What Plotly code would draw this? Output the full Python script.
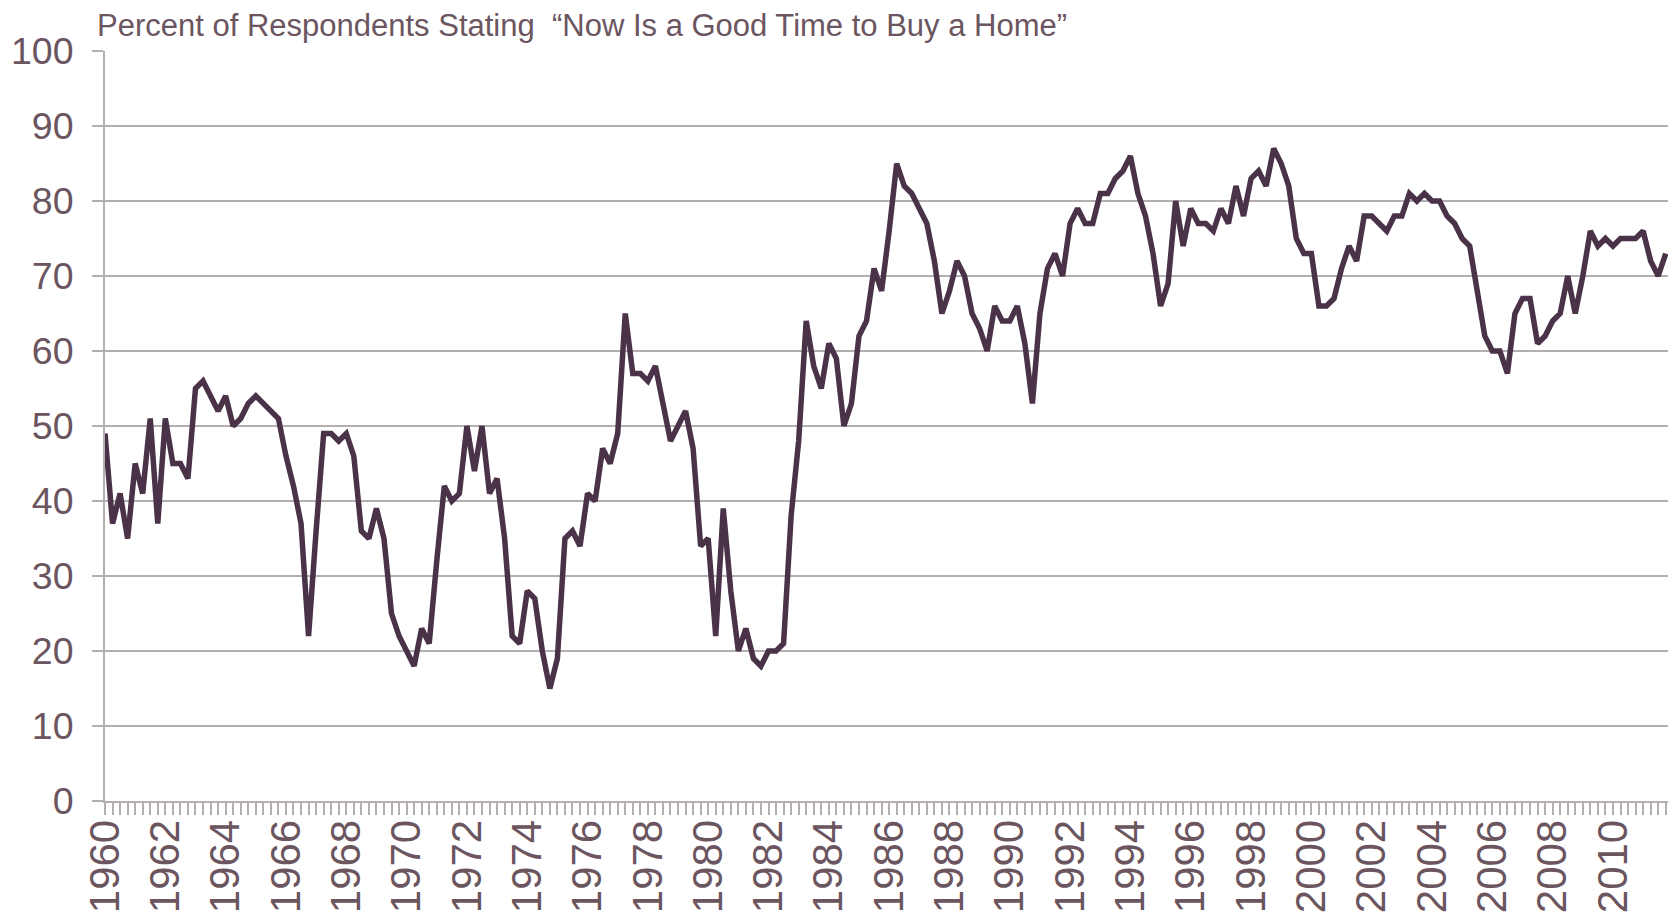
import plotly.graph_objects as go

title_text = "Percent of Respondents Stating  \u201cNow Is a Good Time to Buy a Home\u201d"

# Quarterly values, 1960 Q1 to 2011 Q4
values_1960s = [49, 37, 41, 35, 45, 41, 51, 37, 51, 45, 45, 43, 55, 56, 54, 52,
                54, 50, 51, 53, 54, 53, 52, 51, 46, 42, 37, 22, 36, 49, 49, 48,
                49, 46, 36, 35, 39, 35, 25, 22]
values_1970s = [20, 18, 23, 21, 32, 42, 40, 41, 50, 44, 50, 41, 43, 35, 22, 21,
                28, 27, 20, 15, 19, 35, 36, 34, 41, 40, 47, 45, 49, 65, 57, 57,
                56, 58, 53, 48, 50, 52, 47, 34]
values_1980s = [35, 22, 39, 28, 20, 23, 19, 18, 20, 20, 21, 38, 48, 64, 58, 55,
                61, 59, 50, 53, 62, 64, 71, 68, 76, 85, 82, 81, 79, 77, 72, 65,
                68, 72, 70, 65, 63, 60, 66, 64]
values_1990s = [64, 66, 61, 53, 65, 71, 73, 70, 77, 79, 77, 77, 81, 81, 83, 84,
                86, 81, 78, 73, 66, 69, 80, 74, 79, 77, 77, 76, 79, 77, 82, 78,
                83, 84, 82, 87, 85, 82, 75, 73]
values_2000s = [73, 66, 66, 67, 71, 74, 72, 78, 78, 77, 76, 78, 78, 81, 80, 81,
                80, 80, 78, 77, 75, 74, 68, 62, 60, 60, 57, 65, 67, 67, 61, 62,
                64, 65, 70, 65, 70, 76, 74, 75]
values_2010s = [74, 75, 75, 75, 76, 72, 70, 73]

values = values_1960s + values_1970s + values_1980s + values_1990s + values_2000s + values_2010s

start_year = 1960
quarter_labels = [f"{start_year + i // 4} Q{i % 4 + 1}" for i in range(len(values))]
tick_labels = [str(start_year + i // 4) if (i % 8 == 0) else "" for i in range(len(values))]

y_ticks = [0, 10, 20, 30, 40, 50, 60, 70, 80, 90, 100]

x_idx = list(range(len(values)))

text_color = "#6b555f"
grid_color = "#b5aeb0"
line_color = "#4a3349"
font_family = "Liberation Sans, Arial, sans-serif"

fig = go.Figure()
fig.add_trace(go.Scatter(
    x=x_idx, y=values, mode="lines",
    line=dict(color=line_color, width=5.5),
    text=quarter_labels, hovertemplate="%{text}: %{y}<extra></extra>",
))

fig.update_layout(
    width=1671, height=914,
    margin=dict(l=97, r=11, t=43, b=121, autoexpand=False),
    paper_bgcolor="white", plot_bgcolor="white",
    showlegend=False,
    font=dict(family=font_family, color=text_color),
    annotations=[dict(
        text=title_text, xref="paper", yref="paper", x=-0.0065, y=1 + 25 / 750,
        xanchor="left", yanchor="middle", showarrow=False,
        font=dict(size=31, color=text_color, family=font_family),
    )],
)

fig.update_xaxes(
    range=[0, 207.3],
    tickmode="array", tickvals=x_idx, ticktext=tick_labels,
    tickangle=-90, tickfont=dict(size=42, color=text_color),
    ticks="outside", ticklen=12, tickwidth=1.5, tickcolor=grid_color,
    showline=True, linecolor=grid_color, linewidth=2,
    showgrid=False, zeroline=False, automargin=False,
    ticklabelstandoff=-12,
)

fig.update_yaxes(
    range=[0, 100],
    tickmode="array", tickvals=y_ticks, ticktext=[str(v) for v in y_ticks],
    tickfont=dict(size=37.5, color=text_color),
    ticks="outside", ticklen=11, tickwidth=1.5, tickcolor=grid_color,
    showline=True, linecolor=grid_color, linewidth=2,
    showgrid=True, gridcolor=grid_color, gridwidth=1.5,
    zeroline=False, automargin=False, ticklabelstandoff=11,
)

fig.write_html("out.html")
